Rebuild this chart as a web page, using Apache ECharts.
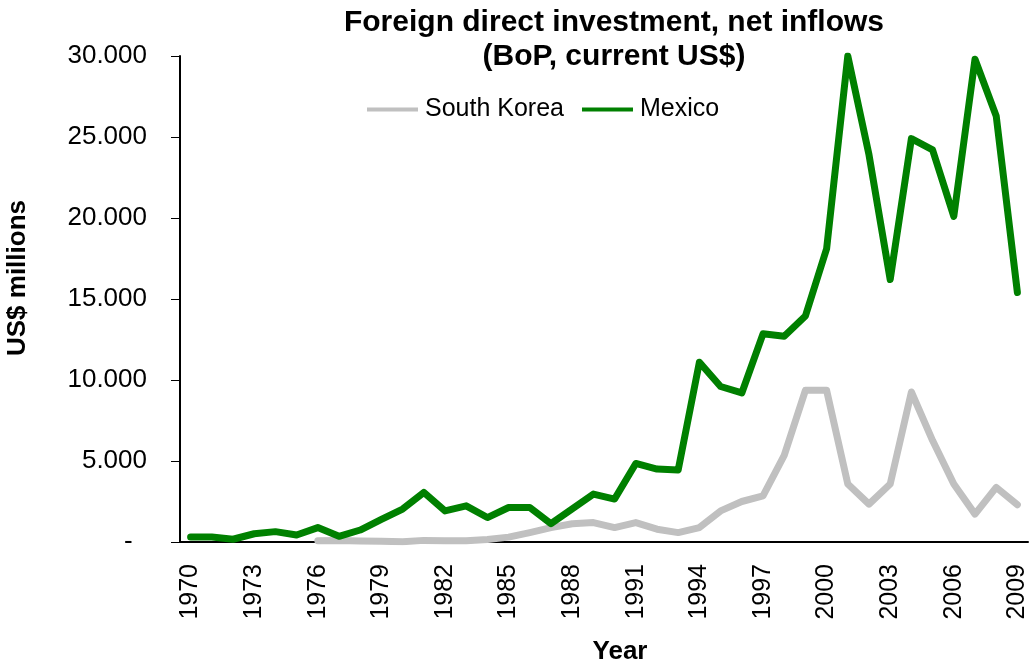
<!DOCTYPE html>
<html>
<head>
<meta charset="utf-8">
<script src="https://cdn.jsdelivr.net/npm/echarts@6/dist/echarts.min.js"></script>
<style>
  html, body { margin: 0; padding: 0; background: #fff; overflow: hidden; }
  #chart-container { width: 1033px; height: 665px; }
</style>
</head>
<body>
<div id="chart-container"></div>
<script>
var years = [];
for (var y = 1970; y <= 2009; y++) years.push(String(y));

// US$ millions
var southKorea = [
  null, null, null, null, null, null, 80, 90, 60, 40,
  10, 100, 70, 70, 150, 300, 580, 890, 1130, 1200,
  890, 1200, 790, 580, 890, 1920, 2500, 2850, 5350, 9360,
  9360, 3580, 2340, 3580, 9260, 6260, 3580, 1720, 3370, 2300
];
var mexico = [
  310, 310, 170, 510, 640, 430, 890, 350, 740, 1400,
  2030, 3060, 1920, 2230, 1510, 2130, 2130, 1130, 2050, 2960,
  2650, 4850, 4500, 4450, 11100, 9600, 9200, 12850, 12700, 13950,
  18100, 30000, 23900, 16200, 24900, 24200, 20100, 29800, 26300, 15400
];

var font = "Liberation Sans";
var dom = document.getElementById("chart-container");
var myChart = echarts.init(dom, null, { renderer: "canvas" });

var option = {
  backgroundColor: "#fff",
  animation: false,
  textStyle: { fontFamily: font, color: "#000" },
  title: {
    text: "Foreign direct investment, net inflows\n(BoP, current US$)",
    left: 609,
    top: 1,
    textAlign: "center",
    textStyle: {
      fontFamily: font,
      fontSize: 30,
      fontWeight: "bold",
      color: "#000",
      lineHeight: 34,
    },
  },
  legend: {
    left: 362,
    top: 92,
    icon: "rect",
    itemWidth: 51,
    itemHeight: 4,
    itemGap: 18,
    textStyle: { fontFamily: font, fontSize: 25, color: "#000", padding: [0, 0, 0, 2] },
    data: ["South Korea", "Mexico"],
  },
  grid: { left: 180, right: 5, top: 56, bottom: 123, outerBoundsMode: "none", containLabel: false },
  xAxis: {
    type: "category",
    data: years,
    boundaryGap: true,
    name: "Year",
    nameLocation: "middle",
    nameGap: 97,
    nameTextStyle: { fontFamily: font, fontSize: 26, fontWeight: "bold", color: "#000", padding: [0, 0, 0, 32] },
    axisLine: { lineStyle: { color: "#000", width: 2 } },
    axisTick: { interval: 2, length: 8, lineStyle: { color: "#000", width: 1 } },
    axisLabel: {
      interval: 2,
      rotate: 90,
      margin: 22,
      fontFamily: font,
      fontSize: 25,
      color: "#000",
    },
    splitLine: { show: false },
  },
  yAxis: {
    type: "value",
    min: 0,
    max: 30000,
    interval: 5000,
    name: "US$ millions",
    nameLocation: "middle",
    nameRotate: 90,
    nameGap: 149,
    nameTextStyle: { fontFamily: font, fontSize: 26, fontWeight: "bold", color: "#000", padding: [0, 0, 0, 42] },
    axisLine: { show: true, lineStyle: { color: "#000", width: 2 } },
    axisTick: { show: true, length: 9, lineStyle: { color: "#000", width: 1 } },
    axisLabel: {
      margin: 33,
      fontFamily: font,
      fontSize: 26,
      color: "#000",
      formatter: function (v) {
        if (v === 0) return "-  ";
        return String(v).replace(/\B(?=(\d{3})+(?!\d))/g, ".");
      },
    },
    splitLine: { show: false },
  },
  series: [
    {
      name: "South Korea",
      type: "line",
      data: southKorea,
      symbol: "none",
      color: "#c0c0c0",
      lineStyle: { color: "#c0c0c0", width: 7, cap: "round", join: "round" },
      z: 2,
    },
    {
      name: "Mexico",
      type: "line",
      data: mexico,
      symbol: "none",
      color: "#008000",
      lineStyle: { color: "#008000", width: 7, cap: "round", join: "round" },
      z: 3,
    },
  ],
};

myChart.setOption(option);
window.addEventListener("resize", myChart.resize);
</script>
</body>
</html>
